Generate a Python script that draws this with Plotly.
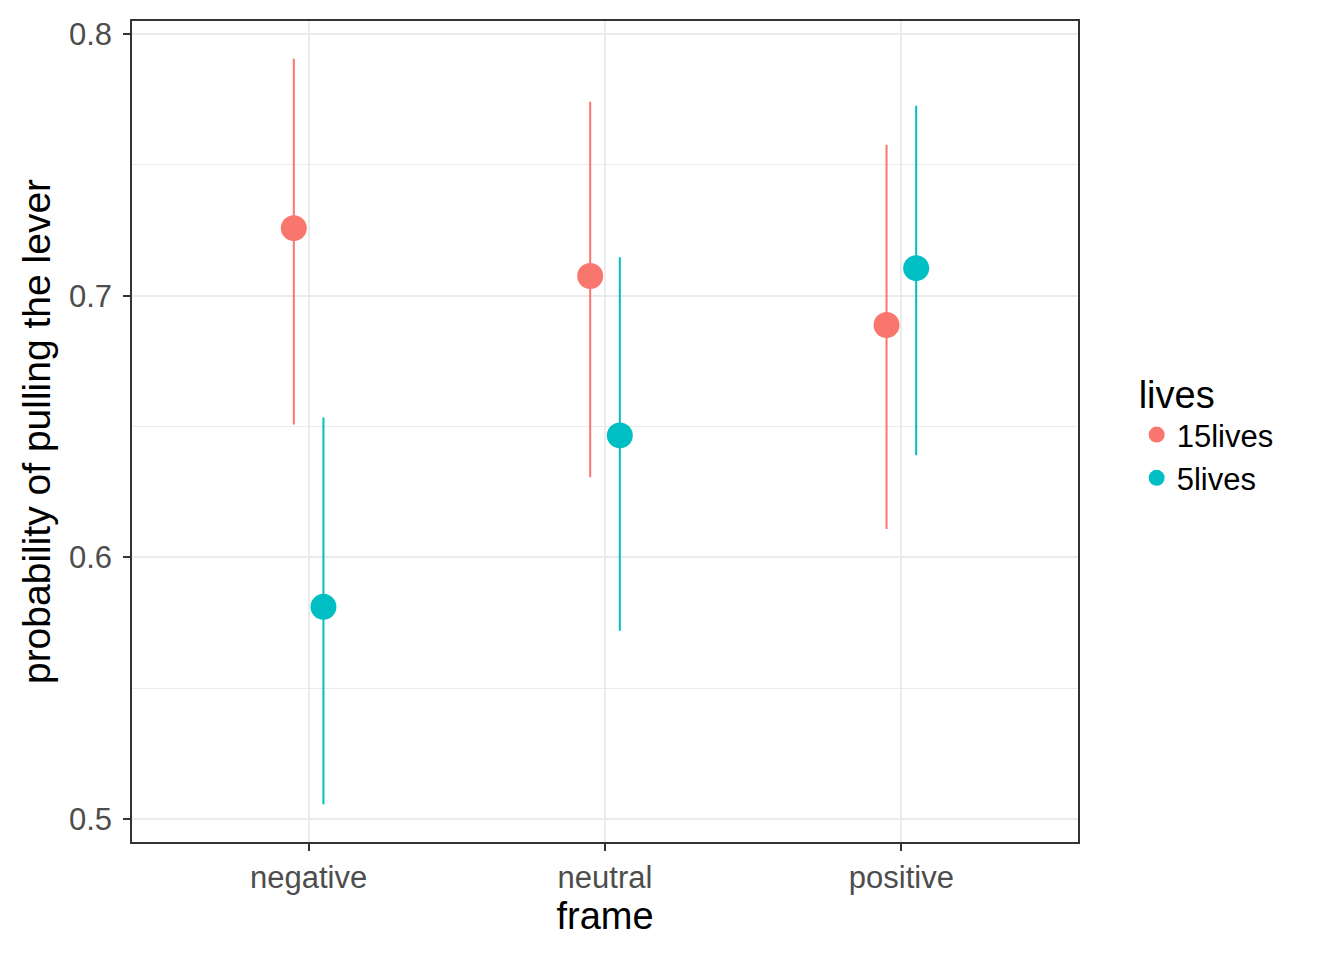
import plotly.graph_objects as go

frames = ["negative", "neutral", "positive"]
lives = ["15lives", "5lives"]
colors = {"15lives": "#F8766D", "5lives": "#00BFC4"}
estimate = {
    "15lives": [0.7258, 0.7075, 0.6888],
    "5lives": [0.5811, 0.6466, 0.7105],
}
upper = {
    "15lives": [0.7905, 0.7741, 0.7577],
    "5lives": [0.6534, 0.7147, 0.7726],
}
lower = {
    "15lives": [0.6508, 0.6306, 0.6108],
    "5lives": [0.5057, 0.5720, 0.6390],
}
dodge = {"15lives": -0.05, "5lives": 0.05}

fig = go.Figure()
for lv in lives:
    xs = [i + dodge[lv] for i in range(len(frames))]
    est = estimate[lv]
    fig.add_trace(go.Scatter(
        x=xs, y=est, mode="markers", name=lv,
        marker=dict(color=colors[lv], size=26, line=dict(width=0)),
        error_y=dict(type="data", symmetric=False,
                     array=[u - e for u, e in zip(upper[lv], est)],
                     arrayminus=[e - l for e, l in zip(est, lower[lv])],
                     color=colors[lv], thickness=2, width=0),
    ))

font = "Liberation Sans, Arial, sans-serif"
fig.update_layout(
    width=1344, height=960,
    paper_bgcolor="white", plot_bgcolor="white",
    margin=dict(l=124, r=274, t=9, b=126),
    font=dict(family=font, color="black"),
    showlegend=True,
    legend=dict(
        title=dict(text="lives", font=dict(size=38, color="black")),
        font=dict(size=31, color="black"),
        x=1.062, xanchor="left", y=0.5, yanchor="middle",
        itemsizing="trace", tracegroupgap=0,
    ),
    xaxis=dict(
        range=[-0.596, 2.596],
        tickvals=list(range(len(frames))), ticktext=frames,
        tickfont=dict(size=31, color="#4d4d4d", family=font),
        title=dict(text="frame", font=dict(size=38, color="black"), standoff=6),
        showgrid=True, gridcolor="#EBEBEB", gridwidth=2.2,
        zeroline=False,
        showline=True, mirror=True, linecolor="#333333", linewidth=1.5,
        ticks="outside", ticklen=7, tickwidth=2, tickcolor="#333333",
    ),
    yaxis=dict(
        range=[0.49124, 0.80495],
        tickvals=[0.5, 0.6, 0.7, 0.8], ticktext=["0.5", "0.6", "0.7", "0.8"],
        tickfont=dict(size=31, color="#4d4d4d", family=font),
        ticklabelstandoff=5,
        title=dict(text="probability of pulling the lever", font=dict(size=39, color="black"), standoff=6),
        showgrid=True, gridcolor="#EBEBEB", gridwidth=2.2,
        minor=dict(tickvals=[0.55, 0.65, 0.75], showgrid=True, gridcolor="#EBEBEB", gridwidth=1, ticks=""),
        zeroline=False,
        showline=True, mirror=True, linecolor="#333333", linewidth=1.5,
        ticks="outside", ticklen=7, tickwidth=2, tickcolor="#333333",
    ),
)

fig.write_html("out.html")
